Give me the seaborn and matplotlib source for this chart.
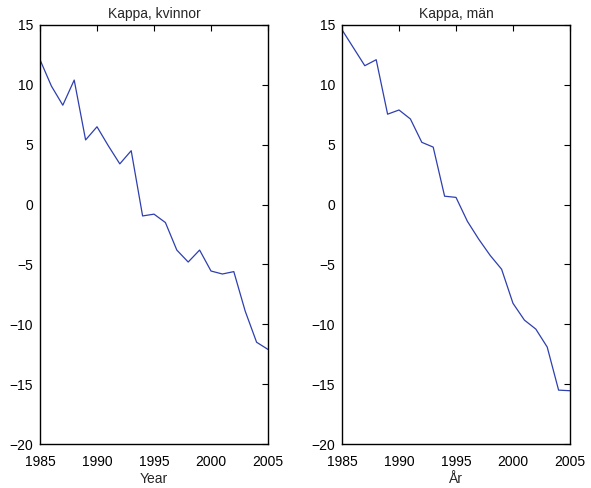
import matplotlib
matplotlib.use("Agg")
import matplotlib.pyplot as plt
import seaborn as sns
import pandas as pd

years = list(range(1985, 2006))
kappa_women = [12.1, 9.9, 8.3, 10.4, 5.4, 6.5, 4.9, 3.4, 4.5, -0.95, -0.8, -1.5,
               -3.8, -4.8, -3.8, -5.55, -5.8, -5.6, -8.9, -11.5, -12.1]
kappa_men = [14.6, 13.1, 11.6, 12.1, 7.55, 7.9, 7.15, 5.2, 4.8, 0.7, 0.6, -1.4,
             -2.9, -4.25, -5.4, -8.25, -9.65, -10.4, -11.9, -15.5, -15.55]

titles = ["Kappa, kvinnor", "Kappa, män"]
xlabels = ["Year", "År"]
xticks = [1985, 1990, 1995, 2000, 2005]
yticks = [-20, -15, -10, -5, 0, 5, 10, 15]

sns.set_style("white")
plt.rcParams["font.family"] = ["Liberation Sans", "DejaVu Sans"]
plt.rcParams["xtick.direction"] = "in"
plt.rcParams["ytick.direction"] = "in"

df = pd.DataFrame({"year": years, "women": kappa_women, "men": kappa_men})

fig = plt.figure(figsize=(5.91, 4.88), dpi=100)
W, H = 591, 488
rects = [(40, 25, 228, 419), (342, 25, 228, 419)]
line_color = "#2e3fae"

for (x0, y0, w, h), col, title, xl in zip(rects, ["women", "men"], titles, xlabels):
    ax = fig.add_axes([x0 / W, 1 - (y0 + h) / H, w / W, h / H])
    sns.lineplot(data=df, x="year", y=col, ax=ax, color=line_color, linewidth=0.9)
    ax.set_xlim(1985, 2005)
    ax.set_ylim(-20, 15)
    ax.set_xticks(xticks)
    ax.set_yticks(yticks)
    ax.set_yticklabels([str(v).replace("-", "\u2212") for v in yticks])
    ax.tick_params(axis="both", which="both", direction="in", top=True, right=True,
                   length=4, width=0.8, labelsize=10, colors="black")
    ax.tick_params(axis="x", pad=8)
    ax.tick_params(axis="y", pad=5)
    for s in ax.spines.values():
        s.set_visible(True)
        s.set_color("black")
        s.set_linewidth(1.0)
    ax.set_title(title, fontsize=10, pad=5)
    ax.set_xlabel(xl, fontsize=10, labelpad=2)
    ax.set_ylabel("")

fig.savefig("out.png", dpi=100, facecolor="white")
